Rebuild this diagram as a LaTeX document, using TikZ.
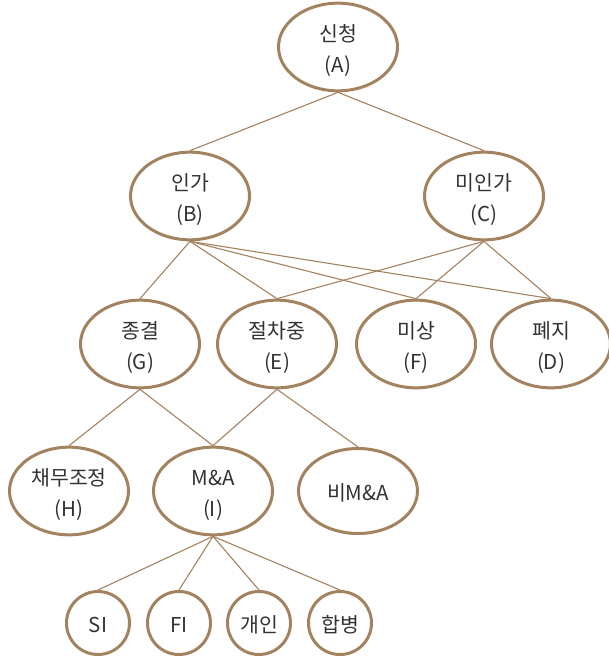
\documentclass[tikz,border=0pt]{standalone}
\usepackage{fontspec}
\setmainfont{Noto Sans CJK KR}
\usetikzlibrary{shapes.geometric}
\definecolor{brn}{RGB}{163,130,95}
\definecolor{txt}{RGB}{50,50,50}
\newcommand\twol[1]{\raisebox{-3.5pt}[\height][\depth]{\begin{tabular}{@{}c@{}}#1\end{tabular}}}
\newcommand\onel[1]{\raisebox{-1.5pt}[\height][\depth]{#1}}
\tikzset{
  ell/.style={ellipse, draw=brn, line width=3pt, fill=white, minimum width=119pt, minimum height=85pt, inner sep=0pt, text=txt, font=\fontsize{20.5}{31}\selectfont},
  circ/.style={circle, draw=brn, line width=3pt, fill=white, minimum size=63pt, inner sep=0pt, text=txt, font=\fontsize{20.5}{31}\selectfont},
  conn/.style={draw=brn, line width=1.1pt}
}
\begin{document}
\begin{tikzpicture}[x=1pt,y=-1pt]
\useasboundingbox (0,0) rectangle (609,656);
\node[ell] (A) at (338,47) {\twol{신청\\(A)}};
\node[ell] (B) at (190,196) {\twol{인가\\(B)}};
\node[ell] (C) at (484,196) {\twol{미인가\\(C)}};
\node[ell] (G) at (140,344) {\twol{종결\\(G)}};
\node[ell] (E) at (277,344) {\twol{절차중\\(E)}};
\node[ell] (F) at (416,344) {\twol{미상\\(F)}};
\node[ell] (D) at (551,344) {\twol{폐지\\(D)}};
\node[ell] (H) at (69,491) {\twol{채무조정\\(H)}};
\node[ell] (I) at (213,491) {\twol{M\&A\\(I)}};
\node[ell] (N) at (358,491) {\onel{비M\&A}};
\node[circ] (SI) at (98,623) {\onel{SI}};
\node[circ] (FI) at (179,623) {\onel{FI}};
\node[circ] (P) at (259,623) {\onel{개인}};
\node[circ] (M) at (340,623) {\onel{합병}};
\draw[conn] (A.south) -- (B.north);
\draw[conn] (A.south) -- (C.north);
\draw[conn] (B.south) -- (G.north);
\draw[conn] (B.south) -- (E.north);
\draw[conn] (B.south) -- (F.north);
\draw[conn] (B.south) -- (D.north);
\draw[conn] (C.south) -- (E.north);
\draw[conn] (C.south) -- (F.north);
\draw[conn] (C.south) -- (D.north);
\draw[conn] (G.south) -- (H.north);
\draw[conn] (G.south) -- (I.north);
\draw[conn] (E.south) -- (I.north);
\draw[conn] (E.south) -- (N.north);
\draw[conn] (I.south) -- (SI.north);
\draw[conn] (I.south) -- (FI.north);
\draw[conn] (I.south) -- (P.north);
\draw[conn] (I.south) -- (M.north);
\end{tikzpicture}
\end{document}
